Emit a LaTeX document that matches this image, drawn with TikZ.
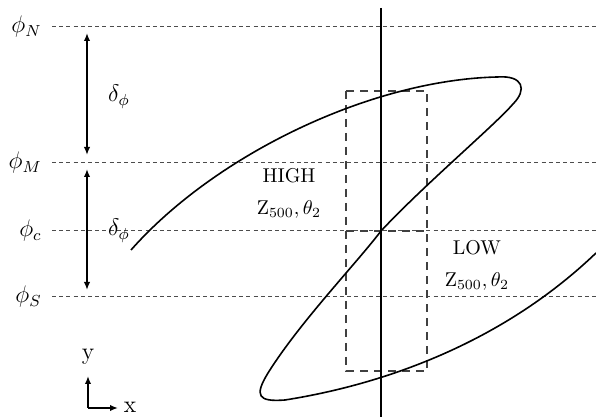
\documentclass[tikz,border=0pt]{standalone}
\usepackage{amsmath,amssymb}
\usetikzlibrary{arrows.meta,positioning,calc}
\begin{document}
\begin{tikzpicture}[x=0.5pt,y=-0.5pt,>={Latex[length=4pt,width=3.2pt]},
  level/.style={draw=black!70,dash pattern=on 2pt off 1.6pt,line width=0.5pt},
  lvlabel/.style={left,inner sep=1pt,xshift=-4pt,font=\large},
  span/.style={<->,line width=0.8pt},
  window/.style={draw=black!75,dash pattern=on 4pt off 3pt,line width=0.7pt},
  region/.style={align=center,font=\normalsize}]
\useasboundingbox (0,0) rectangle (596,417);
% latitude levels
\foreach \name/\y in {N/27,M/163,c/231,S/297}{
  \coordinate (w\name) at (52,\y);
  \coordinate (e\name) at (596,\y);
  \draw[level] (w\name) -- (e\name);
  \node[lvlabel] (l\name) at (w\name) {$\phi_{\name}$};
}
% widths
\coordinate (nTop) at (87,33);
\coordinate (nBot) at (87,155);
\coordinate (sTop) at (87,169);
\coordinate (sBot) at (87,290);
\draw[span] (nTop) -- (nBot);
\draw[span] (sTop) -- (sBot);
\node[font=\large] (dN) at (119,97) {$\delta_\phi$};
\node[font=\large] (dS) at (119,231) {$\delta_\phi$};
% box around the centre
\coordinate (bxA) at (346,91);
\coordinate (bxB) at (427,371);
\draw[window] (bxA) rectangle (bxB);
\draw[window] (bxA|-wc) -- (bxB|-wc);
% meridian
\coordinate (mTop) at (381,8);
\coordinate (mBot) at (381,417);
\draw[line width=1pt] (mTop) -- (mBot);
% jet
\draw[line width=0.8pt] (131,250) .. controls (215,155) and (370,80) .. (497,77)
  .. controls (524,75) and (527,90) .. (513,104)
  .. controls (495,125) and (425,184) .. (381,231)
  .. controls (355,265) and (300,322) .. (268,373)
  .. controls (254,396) and (258,402) .. (285,400)
  .. controls (380,385) and (500,345) .. (596,253);
\node[region] (high) at (289,193) {HIGH\\[4pt]$\mathrm{Z}_{500},\theta_2$};
\node[region] (low) at (477,265) {LOW\\[4pt]$\mathrm{Z}_{500},\theta_2$};
% axes
\coordinate (o) at (88,408);
\coordinate (yEnd) at (88,376);
\coordinate (xEnd) at (118,408);
\draw[->,line width=0.8pt] (o) -- (yEnd);
\draw[->,line width=0.8pt] (o) -- (xEnd);
\node[font=\large,inner sep=1pt] (ylab) at (88,357) {y};
\node[font=\large,inner sep=1pt] (xlab) at (130,407) {x};
\end{tikzpicture}
\end{document}
